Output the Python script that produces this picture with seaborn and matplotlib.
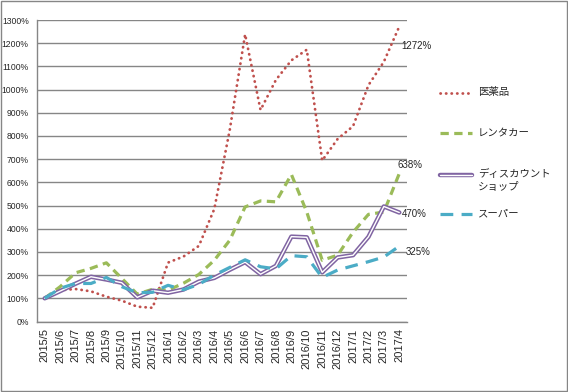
import numpy as np
import pandas as pd
import seaborn as sns
import matplotlib.pyplot as plt
import matplotlib.patheffects as pe
from matplotlib.lines import Line2D
from matplotlib.patches import Rectangle

# data (index, 2015/5 = 100%)
months = ['2015/5', '2015/6', '2015/7', '2015/8', '2015/9', '2015/10', '2015/11', '2015/12',
          '2016/1', '2016/2', '2016/3', '2016/4', '2016/5', '2016/6', '2016/7', '2016/8',
          '2016/9', '2016/10', '2016/11', '2016/12', '2017/1', '2017/2', '2017/3', '2017/4']
iyakuhin = [100, 135, 140, 130, 107, 90, 64, 59, 254, 280, 326, 485,
            825, 1238, 912, 1042, 1126, 1172, 694, 787, 842, 1019, 1120, 1272]
rentacar = [100, 150, 210, 229, 253, 186, 118, 139, 135, 165, 203, 264,
            350, 494, 520, 516, 634, 472, 264, 286, 385, 462, 472, 638]
discount = [100, 131, 163, 193, 181, 167, 104, 133, 124, 138, 172, 188,
            223, 256, 204, 240, 366, 363, 212, 276, 286, 365, 496, 470]
super_ = [100, 143, 164, 164, 190, 150, 124, 126, 156, 137, 160, 200,
          233, 266, 236, 227, 284, 279, 190, 222, 240, 258, 278, 325]
names = ['医薬品', 'レンタカー', 'ディスカウント\nショップ', 'スーパー']

sns.set_style('white')
plt.rcParams['font.family'] = ['Liberation Sans', 'Noto Sans CJK JP', 'DejaVu Sans']

W, H = 568, 392
fig = plt.figure(figsize=(W / 100, H / 100), dpi=100)
ax = fig.add_axes([37 / W, 1 - 321.5 / H, 370 / W, 301.5 / H])

x = np.arange(len(months))
grid_c = '#868686'
red, green, purple, blue = '#C0504D', '#9BBB59', '#8064A2', '#4BACC6'

# line styles (shared with the legend samples)
dot_kw = dict(color=red, lw=2.0, linestyle=(0, (0.1, 1.9)), dash_capstyle='round')
dash_kw = dict(color=green, lw=2.3, linestyle=(0, (2.6, 1.7)))
double = [pe.Stroke(linewidth=3.2, foreground=purple), pe.Normal()]
dbl_kw = dict(color='white', lw=1.0, path_effects=double)
long_kw = dict(color=blue, lw=2.3, linestyle=(0, (4.0, 2.6)))

# series in excel order
sns.lineplot(x=x, y=iyakuhin, ax=ax, **dot_kw)
sns.lineplot(x=x, y=rentacar, ax=ax, **dash_kw)
sns.lineplot(x=x, y=discount, ax=ax, **dbl_kw)
sns.lineplot(x=x, y=super_, ax=ax, **long_kw)

ax.set_xlim(-0.5, len(months) - 0.5)
ax.set_ylim(0, 1300)
ax.set_yticks(range(0, 1301, 100))
ax.set_yticklabels([f'{v}%' for v in range(0, 1301, 100)])
ax.set_xticks(x)
ax.set_xticklabels(months, rotation=90)
ax.set_xticks(np.arange(-0.5, len(months)), minor=True)
ax.tick_params(axis='x', which='major', length=0, pad=5, labelsize=8)
ax.tick_params(axis='x', which='minor', length=3.5, color=grid_c, width=1, direction='out')
ax.tick_params(axis='y', length=3, color=grid_c, width=1, direction='out', labelsize=6.2, pad=3)
ax.yaxis.grid(True, color=grid_c, lw=1)
ax.set_axisbelow(True)
for s in ['top', 'right']:
    ax.spines[s].set_visible(False)
for s in ['left', 'bottom']:
    ax.spines[s].set_color(grid_c)
    ax.spines[s].set_linewidth(1)
ax.set_xlabel('')
ax.set_ylabel('')

# data labels at the last month
last = len(months) - 1
ax.annotate(f'{iyakuhin[-1]}%', (last, iyakuhin[-1]), xytext=(1.5, -14),
            textcoords='offset points', fontsize=7, va='center', ha='left')
ax.annotate(f'{rentacar[-1]}%', (last, rentacar[-1]), xytext=(-1, 6.5),
            textcoords='offset points', fontsize=7, va='center', ha='left')
ax.annotate(f'{discount[-1]}%', (last, discount[-1]), xytext=(2, -1.2),
            textcoords='offset points', fontsize=7, va='center', ha='left')
ax.annotate(f'{super_[-1]}%', (last, super_[-1]), xytext=(4.5, -4.5),
            textcoords='offset points', fontsize=7, va='center', ha='left')

# legend drawn on the figure
def fx(px):
    return px / W


def fy(py):
    return 1 - py / H


leg = [(92.7, dot_kw), (133.3, dash_kw), (174.5, dbl_kw), (214.3, long_kw)]
for (py, kw), name in zip(leg, names):
    fig.add_artist(Line2D([fx(440), fx(472)], [fy(py), fy(py)],
                          transform=fig.transFigure, **kw))
    fig.text(fx(478), fy(py - 6), name, fontsize=7.5, va='top', ha='left',
             linespacing=1.45)

fig.add_artist(Rectangle((fx(1), fy(390.5)), fx(565.5), 389.5 / H,
                         transform=fig.transFigure, fill=False,
                         edgecolor=grid_c, lw=1))

fig.savefig('out.png', dpi=100)
